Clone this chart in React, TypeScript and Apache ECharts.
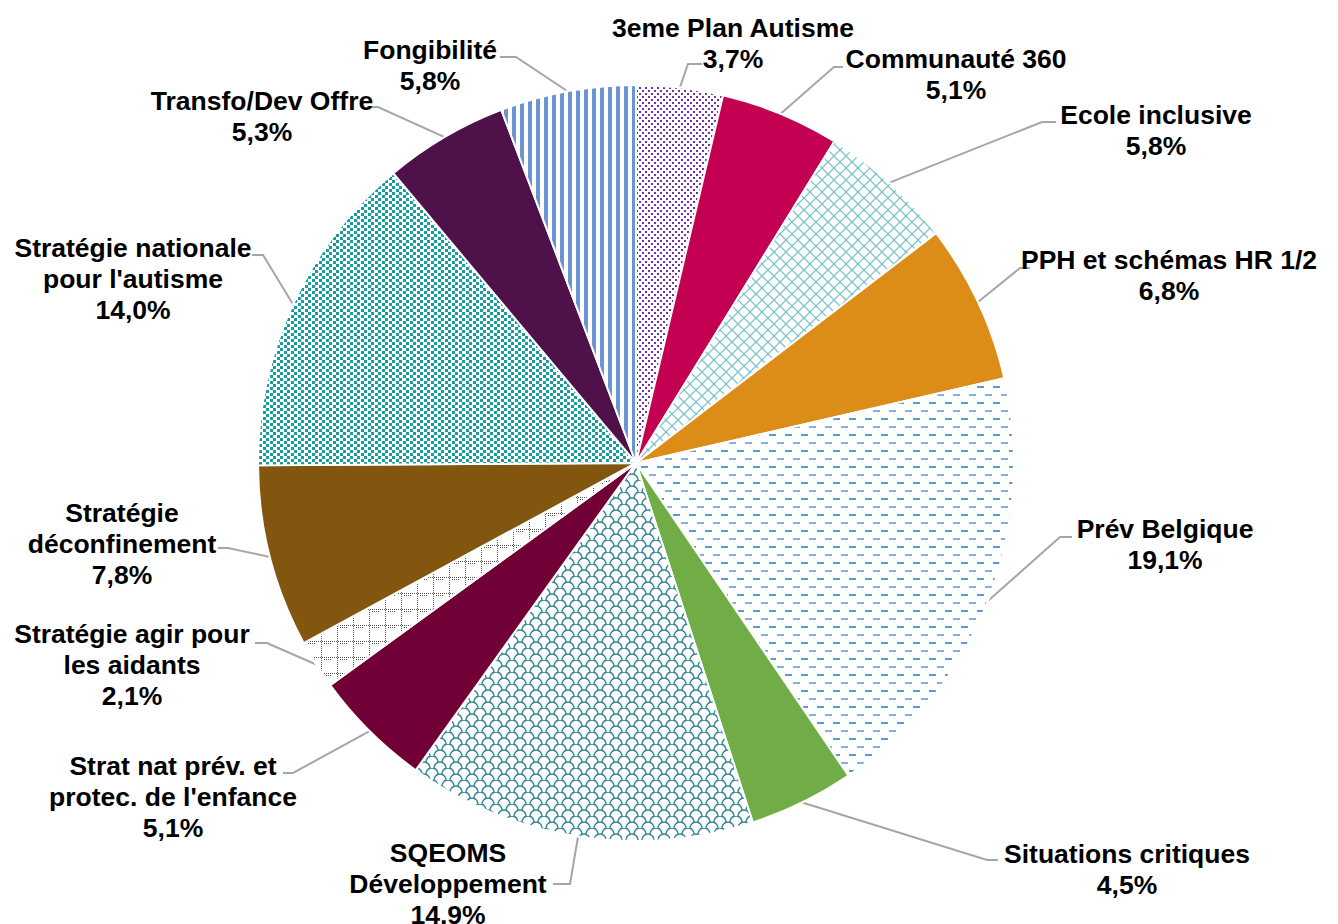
import React, { useEffect, useRef } from 'react';
import * as echarts from 'echarts';

// ---- Data ----
const categories = [
  '3eme Plan Autisme',
  'Communauté 360',
  'Ecole inclusive',
  'PPH et schémas HR 1/2',
  'Prév Belgique',
  'Situations critiques',
  'SQEOMS\nDéveloppement',
  "Strat nat prév. et\nprotec. de l'enfance",
  'Stratégie agir pour\nles aidants',
  'Stratégie\ndéconfinement',
  "Stratégie nationale\npour l'autisme",
  'Transfo/Dev Offre',
  'Fongibilité',
];
const shares = [3.7, 5.1, 5.8, 6.8, 19.1, 4.5, 14.9, 5.1, 2.1, 7.8, 14.0, 5.3, 5.8];

// ---- Layout (label placement, not data) ----
const CX = 636;
const CY = 463;
const R = 378;
const labelCenters: number[][] = [
  [733, 43],
  [956, 74],
  [1156, 130],
  [1169, 275],
  [1165, 544],
  [1127, 869],
  [448, 884],
  [173, 797],
  [132, 665],
  [122, 544],
  [133, 279],
  [262, 116],
  [430, 65],
];
const lineBends: number[][][] = [
  [[688, 64], [702, 64]],
  [[834, 67], [843, 67]],
  [[1042, 122], [1056, 122]],
  [[1020, 268], [1030, 268]],
  [[1060, 537], [1072, 537]],
  [[987, 860], [998, 860]],
  [[570, 884], [553, 884]],
  [[293, 773], [283, 773]],
  [[267, 643], [255, 643]],
  [[228, 548], [218, 548]],
  [[263, 255], [252, 255]],
  [[378, 107], [367, 107]],
  [[516, 57], [500, 57]],
];

function tile(w: number, h: number, draw: (ctx: CanvasRenderingContext2D) => void) {
  const c = document.createElement('canvas');
  c.width = w;
  c.height = h;
  const ctx = c.getContext('2d')!;
  ctx.fillStyle = '#ffffff';
  ctx.fillRect(0, 0, w, h);
  draw(ctx);
  return { image: c, repeat: 'repeat', imageWidth: w, imageHeight: h } as any;
}

function makeFills() {
  const dots = tile(6, 6, (ctx) => {
    ctx.fillStyle = '#7430ae';
    ctx.fillRect(0, 0, 2, 2);
    ctx.fillRect(3, 3, 2, 2);
  });
  const lattice = tile(12, 12, (ctx) => {
    ctx.strokeStyle = '#74c0c7';
    ctx.lineWidth = 1.2;
    ctx.beginPath();
    ctx.moveTo(0, 6); ctx.lineTo(6, 0); ctx.lineTo(12, 6); ctx.lineTo(6, 12); ctx.closePath();
    ctx.stroke();
    ctx.fillStyle = '#74c0c7';
    ctx.fillRect(5, 0, 2, 1);
    ctx.fillRect(0, 5, 1, 2);
    ctx.fillRect(11, 5, 1, 2);
    ctx.fillRect(5, 11, 2, 1);
  });
  const dashes = tile(16, 16, (ctx) => {
    ctx.fillStyle = '#5b9bd5';
    ctx.fillRect(1, 2, 7, 2);
    ctx.fillStyle = '#7fb0e0';
    ctx.fillRect(9, 10, 7, 2);
  });
  const scales = tile(16, 12, (ctx) => {
    ctx.strokeStyle = '#3a8a99';
    ctx.lineWidth = 1.6;
    ctx.beginPath();
    ctx.arc(8, 12, 6, Math.PI, 2 * Math.PI);
    ctx.stroke();
    ctx.beginPath();
    ctx.arc(0, 6, 6, Math.PI, 2 * Math.PI);
    ctx.stroke();
    ctx.beginPath();
    ctx.arc(16, 6, 6, Math.PI, 2 * Math.PI);
    ctx.stroke();
  });
  const grid = tile(16, 16, (ctx) => {
    ctx.fillStyle = '#555555';
    for (let x = 0; x < 16; x += 2) ctx.fillRect(x, 1, 1, 1);
    for (let y = 0; y < 16; y += 2) ctx.fillRect(1, y, 1, 1);
    for (let x = 4; x < 12; x += 2) ctx.fillRect(x, 3, 1, 1);
  });
  const squares = tile(7, 6, (ctx) => {
    ctx.fillStyle = '#179d9d';
    ctx.fillRect(0, 0, 3, 3);
    ctx.fillRect(4, 3, 3, 3);
  });
  const stripes = tile(8, 4, (ctx) => {
    ctx.fillStyle = '#6a94d2';
    ctx.fillRect(0, 0, 4, 4);
  });
  return [
    dots,
    '#c30052',
    lattice,
    '#dc8d17',
    dashes,
    '#70ad47',
    scales,
    '#700036',
    grid,
    '#82560f',
    squares,
    '#4e1149',
    stripes,
  ];
}

export default function App() {
  const ref = useRef<HTMLDivElement>(null);
  useEffect(() => {
    if (!ref.current) return;
    const chart = echarts.init(ref.current, null, { renderer: 'svg' });
    const fills = makeFills();
    const total = shares.reduce((a, b) => a + b, 0);
    const data = categories.map((name, i) => ({
      name,
      value: shares[i],
      itemStyle: { color: fills[i] },
    }));
    chart.setOption({
      animation: false,
      backgroundColor: '#ffffff',
      series: [
        {
          type: 'pie',
          center: [CX, CY],
          radius: R,
          startAngle: 90,
          clockwise: true,
          avoidLabelOverlap: false,
          silent: true,
          data,
          itemStyle: { borderColor: '#ffffff', borderWidth: 2 },
          label: {
            show: true,
            position: 'outside',
            overflow: 'none',
            formatter: (p: any) => `${p.name}\n${p.value.toFixed(1).replace('.', ',')}%`,
            fontFamily: '"Liberation Sans", Arial, sans-serif',
            fontWeight: 'bold',
            fontSize: 26.5,
            lineHeight: 31,
            color: '#000000',
            align: 'center',
          },
          labelLine: {
            show: true,
            length: 10,
            length2: 10,
            smooth: false,
            lineStyle: { color: '#a6a6a6', width: 2 },
          },
          labelLayout: (p: any) => {
            const i = p.dataIndex;
            let before = 0;
            for (let k = 0; k < i; k++) before += shares[k];
            const mid = ((before + shares[i] / 2) / total) * Math.PI * 2;
            const p0 = [CX + R * Math.sin(mid), CY - R * Math.cos(mid)];
            return {
              x: labelCenters[i][0],
              y: labelCenters[i][1],
              align: 'center',
              verticalAlign: 'middle',
              labelLinePoints: [p0, lineBends[i][0], lineBends[i][1]],
            };
          },
          emphasis: { disabled: true },
        },
      ],
    });
    return () => chart.dispose();
  }, []);
  return (
    <div
      ref={ref}
      style={{ position: 'absolute', left: 0, top: 0, width: 1338, height: 924, background: '#fff' }}
    />
  );
}
